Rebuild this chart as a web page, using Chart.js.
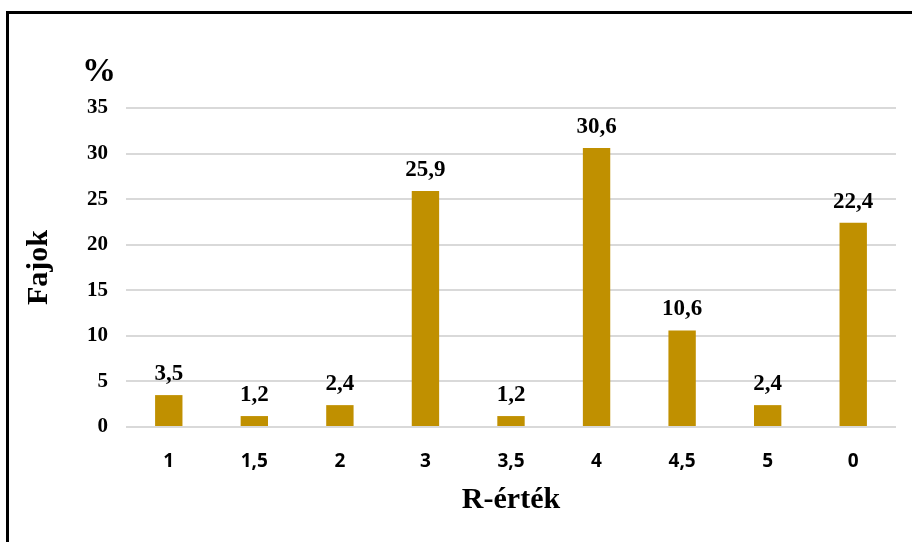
<!DOCTYPE html>
<html>
<head>
<meta charset="utf-8">
<script src="https://cdn.jsdelivr.net/npm/chart.js@4.4.1/dist/chart.umd.min.js"></script>
<style>
  html, body { margin: 0; padding: 0; background: #fff; }
  #wrap { position: relative; width: 912px; height: 542px; }
  #frame { position: absolute; left: 6px; top: 11px; right: 0; bottom: -4px;
           border-left: 3px solid #000; border-top: 3px solid #000; pointer-events: none; }
  canvas { position: absolute; left: 0; top: 0; }
</style>
</head>
<body>
<div id="wrap">
  <canvas id="chart" width="912" height="542"></canvas>
  <div id="frame"></div>
</div>
<script>
// R-érték kategóriák és a fajok százalékos megoszlása
const categories = ['1', '1,5', '2', '3', '3,5', '4', '4,5', '5', '0'];
const percentValues = [3.5, 1.2, 2.4, 25.9, 1.2, 30.6, 10.6, 2.4, 22.4];
const yTicks = [0, 5, 10, 15, 20, 25, 30, 35];

const serif = '"Liberation Serif", "Times New Roman", serif';
const sans = '"Open Sans", "Liberation Sans", sans-serif';

const fmt = v => String(v).replace('.', ',');

// value labels above every bar, plus the "%" unit marker over the axis
const barLabels = {
  id: 'barLabels',
  afterDatasetsDraw(chart) {
    const ctx = chart.ctx;
    const meta = chart.getDatasetMeta(0);
    ctx.save();
    ctx.fillStyle = '#000';
    ctx.font = 'bold 23px ' + serif;
    ctx.textAlign = 'center';
    ctx.textBaseline = 'alphabetic';
    meta.data.forEach((bar, i) => {
      ctx.fillText(fmt(percentValues[i]), bar.x, bar.y - 15);
    });
    ctx.font = 'bold 34px ' + serif;
    ctx.fillText('%', 99, 81);
    ctx.restore();
  }
};

new Chart(document.getElementById('chart'), {
  type: 'bar',
  data: {
    labels: categories,
    datasets: [{
      data: percentValues,
      backgroundColor: '#C09000',
      borderWidth: 0,
      categoryPercentage: 1,
      barPercentage: 0.32
    }]
  },
  options: {
    responsive: false,
    animation: false,
    layout: { padding: { top: 108, right: 16, left: 0, bottom: 0 } },
    plugins: { legend: { display: false }, tooltip: { enabled: false } },
    scales: {
      x: {
        grid: { display: false, drawTicks: false },
        border: { display: false },
        ticks: { color: '#000', font: { family: sans, size: 19, weight: 'bold' }, padding: 23, maxRotation: 0 },
        title: { display: true, text: 'R-érték', color: '#000',
                 font: { family: serif, size: 30, weight: 'bold' }, padding: { bottom: 24 } },
        afterFit(scale) { scale.height = 115; }
      },
      y: {
        min: 0, max: 35,
        afterBuildTicks(scale) { scale.ticks = yTicks.map(v => ({ value: v })); },
        grid: { color: '#d9d9d9', lineWidth: 2, drawTicks: false },
        border: { display: false },
        ticks: { color: '#000', font: { family: serif, size: 21, weight: 'bold' }, padding: 18 },
        title: { display: true, text: 'Fajok', color: '#000',
                 font: { family: serif, size: 30, weight: 'bold' }, padding: { top: 21 } },
        afterFit(scale) { scale.width = 126; }
      }
    }
  },
  plugins: [barLabels]
});
</script>
</body>
</html>
